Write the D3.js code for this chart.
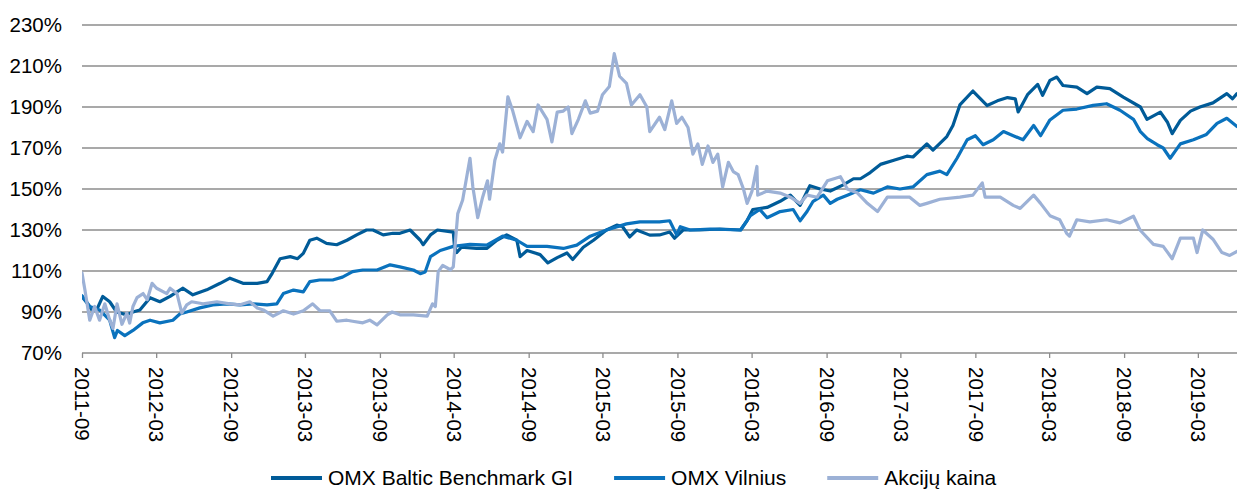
<!DOCTYPE html>
<html><head><meta charset="utf-8">
<script src="https://cdn.jsdelivr.net/npm/d3@7"></script>
<style>
html,body{margin:0;padding:0;background:#fff;}
svg{display:block;font-family:"Liberation Sans",Arial,sans-serif;}
</style></head>
<body>
<svg id="chart" width="1237" height="490"></svg>
<script>
const seriesNames = ["OMX Baltic Benchmark GI", "OMX Vilnius", "Akcijų kaina"];
const seriesColors = ["#005b98", "#0a72bd", "#9cb1d6"];
const xTickLabels = ["2011-09","2012-03","2012-09","2013-03","2013-09","2014-03","2014-09","2015-03","2015-09","2016-03","2016-09","2017-03","2017-09","2018-03","2018-09","2019-03"];
const yTickValues = [70,90,110,130,150,170,190,210,230];
const xDomain = ["2011-09-01","2019-06-05"];

const balticData = [["2011-09-01",97.5],["2011-09-15",94],["2011-09-25",91],["2011-10-07",91],["2011-10-22",97.6],["2011-11-08",95],["2011-11-25",90],["2011-12-20",88.6],["2012-01-04",90],["2012-01-21",91],["2012-02-15",97],["2012-03-10",95],["2012-04-04",97.6],["2012-05-05",101.6],["2012-05-30",98.4],["2012-07-03",100.8],["2012-08-05",104],["2012-08-29",106.5],["2012-09-30",104],["2012-11-04",104],["2012-11-28",104.8],["2012-12-11",109],["2012-12-30",116],["2013-01-24",117],["2013-02-11",116],["2013-02-25",118.6],["2013-03-13",125],["2013-03-30",126],["2013-04-23",123.5],["2013-05-18",122.8],["2013-06-12",125],["2013-07-06",127.6],["2013-07-30",130],["2013-08-15",130],["2013-09-09",127.6],["2013-10-03",128.4],["2013-10-20",128.4],["2013-11-14",130],["2013-12-09",125],["2013-12-16",122.8],["2014-01-03",127.6],["2014-01-20",130],["2014-02-28",129],["2014-03-03",122],["2014-03-08",119],["2014-03-20",121.6],["2014-04-26",121],["2014-05-21",121],["2014-06-15",125],["2014-07-09",127.6],["2014-08-03",125],["2014-08-11",117],["2014-08-28",120],["2014-09-29",118],["2014-10-18",114],["2014-11-10",116.5],["2014-12-04",118.8],["2014-12-18",115.6],["2015-01-13",121.6],["2015-02-07",125],["2015-03-11",130],["2015-04-05",132.4],["2015-04-19",131.7],["2015-05-07",126.6],["2015-05-24",130],["2015-06-25",127.5],["2015-07-19",127.6],["2015-08-13",129],["2015-08-25",126],["2015-09-15",130],["2015-10-26",130],["2015-12-14",130.5],["2016-02-03",130],["2016-02-19",134.6],["2016-03-04",140],["2016-04-08",141],["2016-05-10",144],["2016-06-04",147],["2016-06-28",142],["2016-07-22",151.6],["2016-08-16",150],["2016-09-10",149],["2016-10-12",152],["2016-11-06",155],["2016-11-23",155],["2016-12-17",158],["2017-01-11",162],["2017-02-13",164],["2017-03-17",166],["2017-04-01",165.6],["2017-05-05",172],["2017-05-20",169],["2017-06-23",175.6],["2017-07-08",181],["2017-07-25",191],["2017-08-26",197.8],["2017-09-30",190.7],["2017-10-25",193],["2017-11-19",194.6],["2017-12-08",194],["2017-12-15",187.6],["2018-01-07",196],["2018-02-01",201],["2018-02-13",195.7],["2018-03-03",203],["2018-03-20",204.6],["2018-04-04",200.5],["2018-05-08",199.7],["2018-06-02",196.5],["2018-06-26",199.7],["2018-07-28",199],["2018-08-30",194.8],["2018-10-11",190],["2018-10-27",184],["2018-11-29",187.5],["2018-12-16",182.7],["2018-12-28",177],["2019-01-17",183.5],["2019-02-11",188],["2019-03-06",190],["2019-04-07",192],["2019-05-11",196.5],["2019-05-25",194],["2019-06-05",196.5]];

const vilniusData = [["2011-09-01",98],["2011-09-20",92.7],["2011-10-14",91],["2011-11-08",86],["2011-11-20",77.5],["2011-11-27",81],["2011-12-15",78.5],["2012-01-04",81],["2012-01-28",84.7],["2012-02-15",86],["2012-03-10",84.7],["2012-04-11",86],["2012-04-28",89],["2012-05-15",90],["2012-06-16",92],["2012-07-18",93.5],["2012-08-21",94],["2012-09-23",93.5],["2012-10-25",94],["2012-11-28",93.5],["2012-12-22",94],["2013-01-07",99],["2013-02-01",100.7],["2013-02-25",99.8],["2013-03-13",104.8],["2013-04-06",105.6],["2013-05-08",105.6],["2013-06-01",107],["2013-06-26",109.7],["2013-07-21",110.5],["2013-08-25",110.5],["2013-09-26",113],["2013-10-20",112],["2013-11-22",110.5],["2013-12-09",108.7],["2013-12-21",109.5],["2014-01-03",117],["2014-01-27",120],["2014-02-28",122],["2014-04-10",123],["2014-05-21",122.6],["2014-06-29",127],["2014-08-03",125],["2014-08-28",122],["2014-10-16",122],["2014-11-25",121],["2014-12-28",122.6],["2015-01-30",127],["2015-03-11",130],["2015-04-29",133],["2015-06-01",134],["2015-07-19",134],["2015-08-13",134.5],["2015-08-30",127.6],["2015-09-08",131.6],["2015-10-02",130],["2015-11-20",130.5],["2016-02-03",130],["2016-02-27",137],["2016-03-21",140],["2016-04-08",136],["2016-05-10",139],["2016-06-11",140],["2016-06-28",134.5],["2016-07-15",139],["2016-07-30",144],["2016-08-24",147],["2016-09-10",143],["2016-09-27",145],["2016-10-22",147],["2016-11-23",149.6],["2016-12-25",148],["2017-01-28",151],["2017-02-28",150],["2017-04-01",151],["2017-05-05",157],["2017-06-06",158.7],["2017-06-23",157],["2017-07-18",165],["2017-08-12",174],["2017-09-01",176],["2017-09-20",171.6],["2017-10-15",174],["2017-11-09",178],["2017-12-03",176],["2017-12-27",174],["2018-01-22",181],["2018-02-08",176],["2018-03-03",183.7],["2018-04-04",188.4],["2018-05-08",189],["2018-06-17",190.8],["2018-07-20",191.6],["2018-08-22",188.4],["2018-09-24",184],["2018-10-11",178],["2018-10-28",174.6],["2018-11-21",171.6],["2018-12-06",170],["2018-12-23",165],["2019-01-17",172],["2019-02-18",174],["2019-03-22",176.6],["2019-04-17",182],["2019-05-11",184.5],["2019-06-05",180.5]];

const akcijuData = [["2011-09-01",109],["2011-09-08",101],["2011-09-20",86],["2011-10-02",92.7],["2011-10-14",86],["2011-10-27",94],["2011-11-08",86],["2011-11-16",82],["2011-11-26",94],["2011-12-08",84],["2011-12-20",89.5],["2011-12-27",84.6],["2012-01-04",92.7],["2012-01-14",97],["2012-01-29",99],["2012-02-08",96],["2012-02-20",104],["2012-03-02",101.6],["2012-03-27",99],["2012-04-04",101.6],["2012-04-21",99],["2012-05-03",89.5],["2012-05-15",93.5],["2012-05-27",95],["2012-06-24",94],["2012-07-28",95],["2012-08-29",94],["2012-09-23",93.5],["2012-10-17",95],["2012-11-04",92],["2012-11-19",91],["2012-12-13",88],["2013-01-07",90.6],["2013-02-01",89],["2013-02-25",90.6],["2013-03-20",94],["2013-04-07",90.6],["2013-05-01",90.6],["2013-05-18",85.5],["2013-06-12",86],["2013-06-26",85.5],["2013-07-21",84.7],["2013-08-07",86],["2013-08-25",83.7],["2013-09-19",88.6],["2013-10-01",90],["2013-10-20",88.6],["2013-11-22",88.6],["2013-12-26",88],["2014-01-08",94],["2014-01-15",92.7],["2014-01-22",109.7],["2014-02-02",112.7],["2014-02-21",110.6],["2014-02-28",112],["2014-03-11",138],["2014-03-23",144.6],["2014-04-10",165],["2014-04-17",151],["2014-04-29",136],["2014-05-11",146],["2014-05-23",154],["2014-05-28",145],["2014-06-10",164],["2014-06-22",172],["2014-06-29",168],["2014-07-12",195],["2014-07-24",188],["2014-08-11",175],["2014-08-28",183],["2014-09-12",178],["2014-09-24",191],["2014-10-16",184],["2014-10-28",173],["2014-11-10",187.5],["2014-11-25",188],["2014-12-07",190],["2014-12-16",177],["2015-01-01",184],["2015-01-18",193],["2015-01-30",187],["2015-02-17",188],["2015-03-01",196],["2015-03-18",200],["2015-03-30",216],["2015-04-12",205],["2015-04-29",201.5],["2015-05-11",191],["2015-06-01",196],["2015-06-18",190],["2015-06-25",178],["2015-07-19",185],["2015-08-01",179],["2015-08-18",193],["2015-08-30",182],["2015-09-12",185],["2015-09-27",180],["2015-10-09",167],["2015-10-21",172],["2015-11-01",162],["2015-11-15",171],["2015-11-27",163],["2015-12-09",167],["2015-12-21",151],["2016-01-04",163],["2016-01-16",158.5],["2016-01-28",157],["2016-02-10",150],["2016-02-19",143],["2016-03-02",149],["2016-03-14",161],["2016-03-16",147],["2016-04-08",149],["2016-05-10",148],["2016-06-04",146],["2016-06-28",143],["2016-07-15",147],["2016-08-09",146],["2016-09-03",154],["2016-10-05",156],["2016-10-22",150],["2016-11-16",148],["2016-12-10",143],["2017-01-04",139],["2017-01-28",146],["2017-02-28",146],["2017-03-24",146],["2017-04-18",142],["2017-05-05",143],["2017-06-06",145],["2017-07-25",146],["2017-08-26",147],["2017-09-18",153],["2017-09-25",146],["2017-11-01",146],["2017-12-03",142],["2017-12-20",140.5],["2018-01-22",147],["2018-02-08",143],["2018-03-03",137],["2018-03-27",135],["2018-04-13",128.4],["2018-04-20",127],["2018-05-08",135],["2018-06-09",134],["2018-07-20",135],["2018-08-22",133.5],["2018-09-24",136.7],["2018-10-10",130],["2018-11-12",123],["2018-12-06",122],["2018-12-28",116],["2019-01-17",126],["2019-02-18",126],["2019-02-27",119],["2019-03-13",130],["2019-04-07",125.5],["2019-04-29",119],["2019-05-18",117.6],["2019-06-05",119.5]];

const allSeries = [balticData, vilniusData, akcijuData];

const svg = d3.select("#chart");
const parse = d3.timeParse("%Y-%m-%d");
const parseMonth = d3.timeParse("%Y-%m");
const margin = {left: 82, right: 0, top: 25, bottom: 137};
const W = 1237, H = 490;
const FONT = "'Liberation Sans', Arial, sans-serif";

const x = d3.scaleTime().domain(xDomain.map(parse)).range([margin.left, W - margin.right]);
const y = d3.scaleLinear().domain([70, 230]).range([H - margin.bottom, margin.top]);

// gridlines
svg.append("g").selectAll("line").data(yTickValues.filter(v => v !== 70)).join("line")
  .attr("x1", margin.left).attr("x2", W - margin.right)
  .attr("y1", d => y(d)).attr("y2", d => y(d))
  .attr("stroke", "#8c8c8c").attr("stroke-width", 1.3);

// y axis labels
const yAxis = svg.append("g").attr("transform", `translate(${margin.left},0)`)
  .call(d3.axisLeft(y).tickValues(yTickValues).tickSize(0).tickPadding(20).tickFormat(d => d + "%"));
yAxis.select(".domain").remove();
yAxis.selectAll("text").attr("font-size", "20.5px").attr("fill", "#000").attr("font-family", FONT);

// x axis
const xAxis = svg.append("g").attr("transform", `translate(0,${y(70)})`)
  .call(d3.axisBottom(x).tickValues(xTickLabels.map(parseMonth)).tickSize(5).tickFormat(d3.timeFormat("%Y-%m")));
xAxis.select(".domain").attr("stroke", "#8c8c8c").attr("stroke-width", 1.3)
  .attr("d", `M${margin.left},0H${W}`);
xAxis.selectAll(".tick line").attr("stroke", "#8c8c8c").attr("stroke-width", 1.3);
xAxis.selectAll("text")
  .attr("font-size", "20.5px").attr("fill", "#000").attr("font-family", FONT)
  .attr("transform", "rotate(90)")
  .attr("x", 14).attr("y", 0).attr("dy", "0.35em")
  .style("text-anchor", "start");

// lines
svg.append("defs").append("clipPath").attr("id", "plotclip").append("rect")
  .attr("x", margin.left).attr("y", 0).attr("width", W - margin.left).attr("height", y(70) + 10);
const line = d3.line().x(d => x(parse(d[0]))).y(d => y(d[1])).curve(d3.curveLinear);
const lines = svg.append("g").attr("clip-path", "url(#plotclip)");
allSeries.forEach((s, i) => {
  lines.append("path").datum(s).attr("d", line)
    .attr("fill", "none").attr("stroke", seriesColors[i]).attr("stroke-width", 3.2)
    .attr("stroke-linejoin", "round").attr("stroke-linecap", "round");
});

// legend
const legend = svg.append("g").attr("transform", "translate(271,478)");
let cx = 0;
seriesNames.forEach((name, i) => {
  const g = legend.append("g").attr("transform", `translate(${cx},0)`);
  g.append("line").attr("x1", 0).attr("x2", 51).attr("y1", 0).attr("y2", 0)
    .attr("stroke", seriesColors[i]).attr("stroke-width", 4);
  const t = g.append("text").attr("x", 57).attr("y", 0).attr("dy", "0.35em")
    .attr("font-size", "21px").attr("font-family", FONT).attr("fill", "#000").text(name);
  const w = t.node().getComputedTextLength();
  cx += 57 + w + 41;
});
</script>
</body></html>
